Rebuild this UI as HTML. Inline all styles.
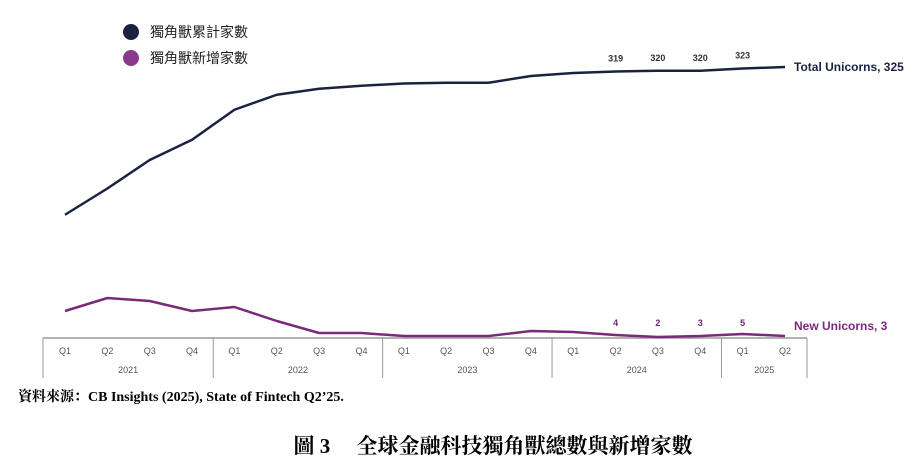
<!DOCTYPE html>
<html><head><meta charset="utf-8"><style>
body{margin:0;background:#fff;width:923px;height:470px;overflow:hidden}
svg{display:block}
text{font-family:"Liberation Sans","Noto Sans CJK TC",sans-serif}
</style></head><body>
<svg id="c" width="923" height="470">
 <g>
  <circle cx="131" cy="32" r="8" fill="#1b2240"/>
  <text x="150" y="37" font-size="14" fill="#222">獨角獸累計家數</text>
  <circle cx="131" cy="58" r="8" fill="#8a3a8a"/>
  <text x="150" y="63" font-size="14" fill="#222">獨角獸新增家數</text>
 </g>
 <g id="axis"></g>
 <g id="series"></g>
 <text x="18" y="401" font-size="14" font-weight="bold" style="font-family:'Liberation Serif','Noto Serif CJK SC',serif">資料來源：CB Insights (2025), State of Fintech Q2’25.</text>
 <text x="493" y="453" font-size="21" font-weight="bold" text-anchor="middle" style="font-family:'Liberation Serif','Noto Serif CJK SC',serif">圖 3　 全球金融科技獨角獸總數與新增家數</text>
</svg>
<script>
const quarters=["Q1","Q2","Q3","Q4","Q1","Q2","Q3","Q4","Q1","Q2","Q3","Q4","Q1","Q2","Q3","Q4","Q1","Q2"];
const years=["2021","2022","2023","2024","2025"];
const yearCounts=[4,4,4,4,2];
const totalUnicorns=[128,163,201,228,268,288,296,300,303,304,304,313,317,319,320,320,323,325];
const newUnicorns=[28,41,38,28,32,18,6,6,3,3,3,8,7,4,2,3,5,3];
const totalLabels=[null,null,null,null,null,null,null,null,null,null,null,null,null,"319","320","320","323",null];
const newLabels=[null,null,null,null,null,null,null,null,null,null,null,null,null,"4","2","3","5",null];
const NS="http://www.w3.org/2000/svg";
const x=i=>65+i*(785-65)/17;
const yT=v=>67+(325-v)*0.75;
const yN=v=>339-v*1.0;
function mk(t,a,p){const e=document.createElementNS(NS,t);for(const k in a)e.setAttribute(k,a[k]);p.appendChild(e);return e;}
const ax=document.getElementById('axis'),se=document.getElementById('series');
const L=43,R=807,T=338,B=378;
let l=mk('line',{x1:L,x2:R,y1:T,y2:T,stroke:'#999','stroke-width':1.5},ax);

let idx=0;const step=(785-65)/17;
yearCounts.forEach((c,k)=>{
 const start=idx,end=idx+c-1;
 const left=k==0?L:(x(start)-step/2), right=k==yearCounts.length-1?R:(x(end)+step/2);
 const d=mk('line',{x1:left,x2:left,y1:T,y2:B,stroke:'#999'},ax);
 
 const t=mk('text',{x:(left+right)/2,y:373,'font-size':9,'text-anchor':'middle',fill:'#555'},ax);t.textContent=years[k];
 
 idx+=c;
});
const dr=mk('line',{x1:R,x2:R,y1:T,y2:B,stroke:'#999'},ax);

quarters.forEach((q,i)=>{const t=mk('text',{x:x(i),y:354,'font-size':9,'text-anchor':'middle',fill:'#555'},ax);t.textContent=q;
 });
function line(vals,yf,col,name){const p=mk('polyline',{points:vals.map((v,i)=>x(i)+','+yf(v)).join(' '),fill:'none',stroke:col,'stroke-width':2.5,'stroke-linejoin':'round'},se);
 }
line(totalUnicorns,yT,'#1b2240','total-unicorns-line');
line(newUnicorns,yN,'#7a2a7a','new-unicorns-line');
totalLabels.forEach((s,i)=>{if(!s)return;const t=mk('text',{x:x(i),y:yT(totalUnicorns[i])-10,'font-size':9,'font-weight':'bold','text-anchor':'middle',fill:'#333'},se);t.textContent=s;
 });
newLabels.forEach((s,i)=>{if(!s)return;const t=mk('text',{x:x(i),y:326,'font-size':9,'font-weight':'bold','text-anchor':'middle',fill:'#6a2a6a'},se);t.textContent=s;
 });
let e=mk('text',{x:794,y:71,'font-size':12,'font-weight':'bold',fill:'#1b2240'},se);e.textContent='Total Unicorns, '+totalUnicorns[17];

e=mk('text',{x:794,y:330,'font-size':12,'font-weight':'bold',fill:'#7a2a7a'},se);e.textContent='New Unicorns, '+newUnicorns[17];

</script>
</body></html>
